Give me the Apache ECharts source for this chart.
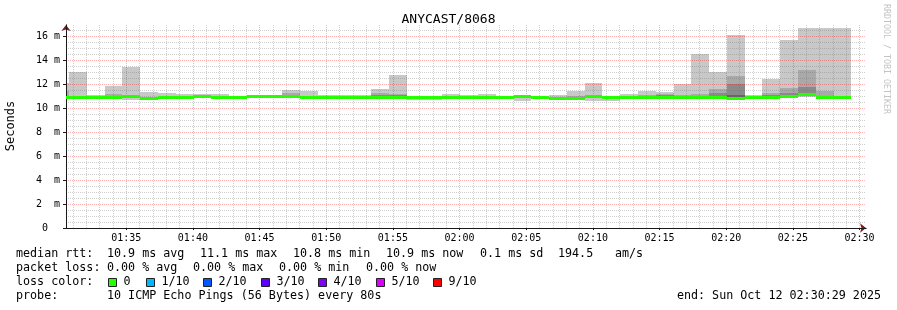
<!DOCTYPE html>
<html><head><meta charset="utf-8">
<script src="https://cdn.jsdelivr.net/npm/echarts@6/dist/echarts.min.js"></script>
<style>html,body{margin:0;padding:0;background:#fff}#c{width:897px;height:310px}</style>
</head><body><div id="c"></div>
<script>
// ---- data (RTT in ms, one entry per 80 s SmokePing step) ----
const stepStarts = ["01:29:23","01:30:43","01:32:03","01:33:23","01:34:43","01:36:03","01:37:23","01:38:43","01:40:03","01:41:23","01:42:43","01:44:03","01:45:23","01:46:43","01:48:03","01:49:23","01:50:43","01:52:03","01:53:23","01:54:43","01:56:03","01:57:23","01:58:43","02:00:03","02:01:23","02:02:43","02:04:03","02:05:23","02:06:43","02:08:03","02:09:23","02:10:43","02:12:03","02:13:23","02:14:43","02:16:03","02:17:23","02:18:43","02:20:03","02:21:23","02:22:43","02:24:03","02:25:23","02:26:43","02:28:03"];
const stepLength = 80;
const medianRtt = [10.90,10.90,10.90,10.90,10.92,10.80,10.90,10.90,10.93,10.85,10.87,10.92,10.97,10.95,10.85,10.90,10.90,10.90,10.90,10.90,10.88,10.88,10.90,10.90,10.90,10.88,10.95,10.85,10.80,10.82,10.92,10.90,10.85,10.90,10.90,10.90,10.90,10.90,10.80,10.90,10.90,10.97,11.10,10.86,10.86];
const minRtt = [10.75,10.72,10.85,10.85,10.67,10.75,10.85,10.85,10.85,10.80,10.80,10.85,10.90,10.90,10.80,10.85,10.85,10.85,10.85,10.85,10.70,10.67,10.85,10.85,10.85,10.80,10.60,10.80,10.75,10.78,10.60,10.60,10.80,10.85,10.85,10.85,10.85,10.85,10.70,10.85,10.85,10.85,10.90,10.80,10.80];
const maxRtt = [12.10,13.00,11.10,11.80,13.44,11.35,11.28,11.17,11.17,11.14,11.00,11.00,11.10,11.50,11.42,11.08,11.08,11.08,11.58,12.75,10.98,10.98,11.17,11.08,11.17,10.98,11.08,10.95,11.08,11.42,12.05,11.00,11.20,11.44,11.36,12.00,14.50,13.03,16.08,11.06,12.42,15.67,16.67,16.67,16.67];
const midRtt = [11.40,10.95,10.90,11.17,11.00,10.95,10.90,10.90,10.93,10.90,10.90,10.92,10.97,11.27,10.95,10.95,10.95,10.95,11.22,11.20,10.88,10.88,10.90,10.90,10.90,10.88,10.95,10.85,10.80,11.00,10.95,10.90,11.00,11.10,11.20,11.05,11.20,11.58,12.70,10.90,11.28,11.69,13.17,11.44,10.86];
const darkRtt = [10.90,10.90,10.90,11.00,10.92,10.80,10.90,10.90,10.93,10.85,10.87,10.92,10.97,11.10,10.85,10.90,10.90,10.90,11.05,11.05,10.88,10.88,10.90,10.90,10.90,10.88,10.95,10.85,10.80,10.82,10.92,10.90,10.85,10.90,11.05,10.90,10.90,11.22,11.97,10.90,11.10,11.28,11.78,10.86,10.86];
const coreRtt = [10.90,10.90,10.90,10.90,10.92,10.80,10.90,10.90,10.93,10.85,10.87,10.92,10.97,10.95,10.85,10.90,10.90,10.90,10.90,10.98,10.88,10.88,10.90,10.90,10.90,10.88,10.95,10.85,10.80,10.82,10.92,10.90,10.85,10.90,10.90,10.90,10.90,11.00,11.08,10.90,10.90,10.97,11.20,10.86,10.86];

const xStart = "01:30:29", xEnd = "02:30:29";
const xTickLabels = ["01:35","01:40","01:45","01:50","01:55","02:00","02:05","02:10","02:15","02:20","02:25","02:30"];
const yTickValues = [0,2,4,6,8,10,12,14,16];
const yMax = 203/12;

const lossLabels = ["0","1/10","2/10","3/10","4/10","5/10","9/10"];
const lossColors = ["#26ff00","#00b8ff","#0059ff","#5e00ff","#7e00ff","#dd00ff","#ff0000"];

const statRow1 = [["median rtt:",16],["10.9 ms avg",107],["11.1 ms max",200],["10.8 ms min",293],["10.9 ms now",386],["0.1 ms sd",480],["194.5",558],["am/s",615]];
const statRow2 = [["packet loss:",16],["0.00 % avg",107],["0.00 % max",193],["0.00 % min",279],["0.00 % now",366]];

// ---- helpers ----
function toSec(s){const p=s.split(':').map(Number);return p[0]*3600+p[1]*60+(p[2]||0);}
function pad(n){return (n<10?'0':'')+n;}
function fmtTime(v){const h=Math.floor(v/3600), m=Math.round((v%3600)/60);return pad(h)+':'+pad(m);}
const xMin = toSec(xStart), xMax = toSec(xEnd);
const xMajor = xTickLabels.map(toSec);
const xMinor = [];
for(let t=Math.ceil(xMin/60)*60;t<=xMax;t+=60){ if(t%300!==0) xMinor.push(t); }
const yMinor = [];
for(let v=0.5; v<yMax; v+=0.5){ if(Math.abs(v/2-Math.round(v/2))>1e-6) yMinor.push(v); }

const smokeData = stepStarts.map((s,i)=>[toSec(s), toSec(s)+stepLength, minRtt[i], maxRtt[i], medianRtt[i], midRtt[i], darkRtt[i], coreRtt[i]]);
const medianData = stepStarts.map((s,i)=>[toSec(s), toSec(s)+stepLength, medianRtt[i]]);

const MONO = "'DejaVu Sans Mono', monospace";

function rectFor(api, cs, t0, t1, lo, hi, color){
  if(!(hi>lo)) return null;
  const a = api.coord([t0, hi]), b = api.coord([t1, lo]);
  const x0 = Math.round(a[0]), x1 = Math.round(b[0]);
  const y0 = Math.round(a[1]), y1 = Math.round(b[1]);
  if(y1<=y0) return null;
  const shape = echarts.graphic.clipRectByRect({x:x0,y:y0,width:x1-x0,height:y1-y0},{x:cs.x,y:cs.y,width:cs.width,height:cs.height});
  if(!shape) return null;
  return {type:'rect', shape, style:{fill:color}};
}

function renderSmoke(params, api){
  const cs = params.coordSys;
  const t0=api.value(0), t1=api.value(1), lo=api.value(2), hi=api.value(3), med=api.value(4);
  const kids = [
    rectFor(api,cs,t0,t1,lo,hi,'#c8c8c8'),
    rectFor(api,cs,t0,t1,med,api.value(5),'#a9a9a9'),
    rectFor(api,cs,t0,t1,med,api.value(6),'#8a8a8a'),
    rectFor(api,cs,t0,t1,med,api.value(7),'#666666')
  ].filter(Boolean);
  return {type:'group', children:kids};
}
function renderMedian(params, api){
  const cs = params.coordSys;
  const a = api.coord([api.value(0), api.value(2)]), b = api.coord([api.value(1), api.value(2)]);
  const x0=Math.round(a[0]), x1=Math.round(b[0]);
  const y = Math.round(a[1]-1.5);
  const shape = echarts.graphic.clipRectByRect({x:x0,y:y,width:x1-x0,height:3},{x:cs.x,y:cs.y,width:cs.width,height:cs.height});
  if(!shape) return null;
  return {type:'rect', shape, style:{fill:'#26ff00'}};
}

const graphic = [];
graphic.push({type:'text', left:'center', top:13, style:{text:'ANYCAST/8068', font:"13px "+MONO, fill:'#000'}});
graphic.push({type:'text', x:11, y:126, rotation:Math.PI/2, style:{text:'Seconds', font:"12px "+MONO, fill:'#000', align:'center', verticalAlign:'middle'}});
graphic.push({type:'text', x:886, y:59, rotation:-Math.PI/2, style:{text:'RRDTOOL / TOBI OETIKER', font:"8.3px "+MONO, fill:'#c4c4c4', align:'center', verticalAlign:'middle'}});
const rowFont = "11.7px "+MONO;
statRow1.forEach(([t,x])=>graphic.push({type:'text', x:x, y:254, style:{text:t, font:rowFont, fill:'#000', verticalAlign:'middle'}}));
statRow2.forEach(([t,x])=>graphic.push({type:'text', x:x, y:268, style:{text:t, font:rowFont, fill:'#000', verticalAlign:'middle'}}));
graphic.push({type:'text', x:16, y:282, style:{text:'loss color:', font:rowFont, fill:'#000', verticalAlign:'middle'}});
const squareX = [108,146,203,261,318,376,433];
lossLabels.forEach((lab,i)=>{
  graphic.push({type:'rect', shape:{x:squareX[i]+0.5, y:278.5, width:8, height:8}, style:{fill:lossColors[i], stroke:'#222', lineWidth:1}});
  graphic.push({type:'text', x:squareX[i]+15.5, y:282, style:{text:lab, font:rowFont, fill:'#000', verticalAlign:'middle'}});
});
graphic.push({type:'text', x:16, y:296, style:{text:'probe:', font:rowFont, fill:'#000', verticalAlign:'middle'}});
graphic.push({type:'text', x:107, y:296, style:{text:'10 ICMP Echo Pings (56 Bytes) every 80s', font:rowFont, fill:'#000', verticalAlign:'middle'}});
graphic.push({type:'text', x:881, y:296, style:{text:'end: Sun Oct 12 02:30:29 2025', font:rowFont, fill:'#000', align:'right', verticalAlign:'middle'}});

const chart = echarts.init(document.getElementById('c'), null, {renderer:'canvas'});
chart.setOption({
  animation:false,
  backgroundColor:'#ffffff',
  grid:{left:66, right:31, top:25, bottom:82, containLabel:false},
  xAxis:[
    {type:'value', min:xMin, max:xMax, position:'bottom', z:5,
     axisLine:{show:true, onZero:false, lineStyle:{color:'#1a1a1a', width:1}},
     axisTick:{show:true, length:2, customValues:xMajor, lineStyle:{color:'#1a1a1a'}},
     axisLabel:{customValues:xMajor, formatter:fmtTime, fontFamily:MONO, fontSize:10, color:'#000', margin:5},
     splitLine:{show:true, lineStyle:{color:'rgba(255,0,0,0.32)', type:[1,1], width:1}}},
    {type:'value', min:xMin, max:xMax, position:'bottom', z:4,
     axisLine:{show:false}, axisTick:{show:false, customValues:xMinor}, axisLabel:{show:false, customValues:xMinor},
     splitLine:{show:true, lineStyle:{color:'rgba(110,110,110,0.33)', type:[1,1], width:1}}},
    {type:'value', min:xMin, max:xMax, position:'bottom', z:3,
     axisLine:{show:true, onZero:false, symbol:['none','arrow'], symbolSize:[7,6], lineStyle:{color:'#8b1414', width:1}},
     axisTick:{show:false}, axisLabel:{show:false}, splitLine:{show:false}}
  ],
  yAxis:[
    {type:'value', min:0, max:yMax, position:'left', z:5,
     axisLine:{show:true, onZero:false, lineStyle:{color:'#1a1a1a', width:1}},
     axisTick:{show:true, length:3, customValues:yTickValues, lineStyle:{color:'#1a1a1a'}},
     axisLabel:{customValues:yTickValues, formatter:v=> v===0 ? '0  ' : (v<10 ? v+'  m' : v+' m'), fontFamily:MONO, fontSize:10, color:'#000', margin:6},
     splitLine:{show:true, lineStyle:{color:'rgba(255,0,0,0.32)', type:[1,1], width:1}}},
    {type:'value', min:0, max:yMax, position:'left', z:4,
     axisLine:{show:false}, axisTick:{show:false, customValues:yMinor}, axisLabel:{show:false, customValues:yMinor},
     splitLine:{show:true, lineStyle:{color:'rgba(110,110,110,0.33)', type:[1,1], width:1}}},
    {type:'value', min:0, max:yMax, position:'left', z:3,
     axisLine:{show:true, onZero:false, symbol:['none','arrow'], symbolSize:[7,6], lineStyle:{color:'#8b1414', width:1}},
     axisTick:{show:false}, axisLabel:{show:false}, splitLine:{show:false}}
  ],
  graphic: graphic,
  series:[
    {type:'custom', name:'smoke', xAxisIndex:0, yAxisIndex:0, z:2, clip:true, renderItem:renderSmoke,
     data:smokeData, encode:{x:[0,1], y:[2,3]}, silent:true},
    {type:'custom', name:'median', xAxisIndex:0, yAxisIndex:0, z:8, clip:true, renderItem:renderMedian,
     data:medianData, encode:{x:[0,1], y:2}, silent:true}
  ]
});
</script></body></html>
